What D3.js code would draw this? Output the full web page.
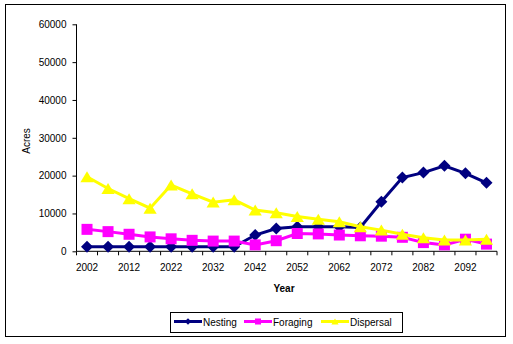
<!DOCTYPE html>
<html><head><meta charset="utf-8">
<script src="https://cdn.jsdelivr.net/npm/d3@7"></script>
<style>body{margin:0;background:#fff}svg{display:block}</style>
</head><body>
<svg id="c" width="513" height="344"></svg>
<script>
const years = [2002,2007,2012,2017,2022,2027,2032,2037,2042,2047,2052,2057,2062,2067,2072,2077,2082,2087,2092,2097];
const tickYears = [2002,2012,2022,2032,2042,2052,2062,2072,2082,2092];
const yTicks = [0,10000,20000,30000,40000,50000,60000];
const nesting = [1200,1200,1200,1200,1200,1200,1200,1200,4300,6000,6500,6500,6500,6300,13100,19500,20800,22600,20600,18100];
const foraging = [5800,5200,4500,3800,3300,2900,2700,2700,1700,2800,4700,4600,4300,4100,4000,3700,2300,1700,3200,1900];
const dispersal = [19700,16600,13900,11400,17500,15200,13000,13600,10900,10200,9200,8500,7800,6500,5600,4500,3600,3000,3000,3200];
const seriesNames = ["Nesting","Foraging","Dispersal"];
const seriesColors = ["#000080","#FF00FF","#FFFF00"];

const svg = d3.select("#c");
const font = "'Liberation Sans', Arial, sans-serif";
svg.append("rect").attr("x",5.5).attr("y",4.5).attr("width",500).attr("height",332)
  .attr("fill","#fff").attr("stroke","#000").attr("stroke-width",1);

const L = 76.5, R = 497, T = 24.3, B = 251.3;
const x = d3.scaleBand().domain(years).range([L,R]).padding(0);
const y = d3.scaleLinear().domain([0,60000]).range([B,T]);
const cx = d => x(d) + x.bandwidth()/2;

// y axis
const ya = svg.append("g").attr("transform",`translate(${L},0)`)
  .call(d3.axisLeft(y).tickValues(yTicks).tickSize(4).tickPadding(6).tickFormat(d3.format("d")));
ya.selectAll("text").attr("font-family",font).attr("font-size",10).attr("fill","#000");
ya.selectAll("line,path").attr("stroke","#000");
ya.select(".domain").attr("d",`M0,${T}V${B}`);

// x axis: ticks at category boundaries
const xa = svg.append("g").attr("transform",`translate(0,${B})`);
xa.append("line").attr("x1",L).attr("x2",R).attr("stroke","#000");
const bounds = years.map(d=>x(d)).concat([R]);
xa.selectAll("line.t").data(bounds).join("line").attr("class","t")
  .attr("x1",d=>d).attr("x2",d=>d).attr("y1",0).attr("y2",4).attr("stroke","#000");
xa.selectAll("text").data(tickYears).join("text")
  .attr("x",d=>cx(d)).attr("y",20).attr("text-anchor","middle")
  .attr("font-family",font).attr("font-size",10).text(d=>d);

svg.append("text").attr("x",284).attr("y",292).attr("text-anchor","middle")
  .attr("font-family",font).attr("font-size",10).attr("font-weight","bold").text("Year");
svg.append("text").attr("transform","translate(30,141) rotate(-90)").attr("text-anchor","middle")
  .attr("font-family",font).attr("font-size",10).text("Acres");

// custom marker shapes (size = scale factor)
const diamond = {draw(ctx, s){ const h=s; ctx.moveTo(0,-h); ctx.lineTo(h,0); ctx.lineTo(0,h); ctx.lineTo(-h,0); ctx.closePath(); }};
const square = {draw(ctx, s){ ctx.rect(-s,-s,2*s,2*s); }};
const triangle = {draw(ctx, s){ const w=s*1.2, h=s; ctx.moveTo(0,-h); ctx.lineTo(w,h); ctx.lineTo(-w,h); ctx.closePath(); }};
const symbols = [diamond, square, triangle];
const sizes = [6, 5.5, 5.5];

const data = [nesting, foraging, dispersal];
const line = d3.line().x((d,i)=>cx(years[i])).y(d=>y(d));
data.forEach((vals,k)=>{
  const g = svg.append("g");
  g.append("path").datum(vals).attr("d",line).attr("fill","none")
    .attr("stroke",seriesColors[k]).attr("stroke-width",3);
  g.selectAll("path.m").data(vals).join("path").attr("class","m")
    .attr("transform",(d,i)=>`translate(${cx(years[i])},${y(d)})`)
    .attr("d",d3.symbol().type(symbols[k]).size(sizes[k]))
    .attr("fill",seriesColors[k]);
});

// legend
const lg = svg.append("g");
lg.append("rect").attr("x",170.5).attr("y",312.5).attr("width",232).attr("height",20)
  .attr("fill","#fff").attr("stroke","#000");
const lx = [174, 244, 321];
seriesNames.forEach((n,k)=>{
  lg.append("line").attr("x1",lx[k]).attr("x2",lx[k]+28).attr("y1",321.5).attr("y2",321.5)
    .attr("stroke",seriesColors[k]).attr("stroke-width",3);
  lg.append("path").attr("transform",`translate(${lx[k]+14},321.5)`)
    .attr("d",d3.symbol().type(symbols[k]).size(sizes[k]*0.55)).attr("fill",seriesColors[k]);
  lg.append("text").attr("x",lx[k]+29).attr("y",325.5).attr("font-family",font)
    .attr("font-size",10).text(n);
});
</script>
</body></html>
